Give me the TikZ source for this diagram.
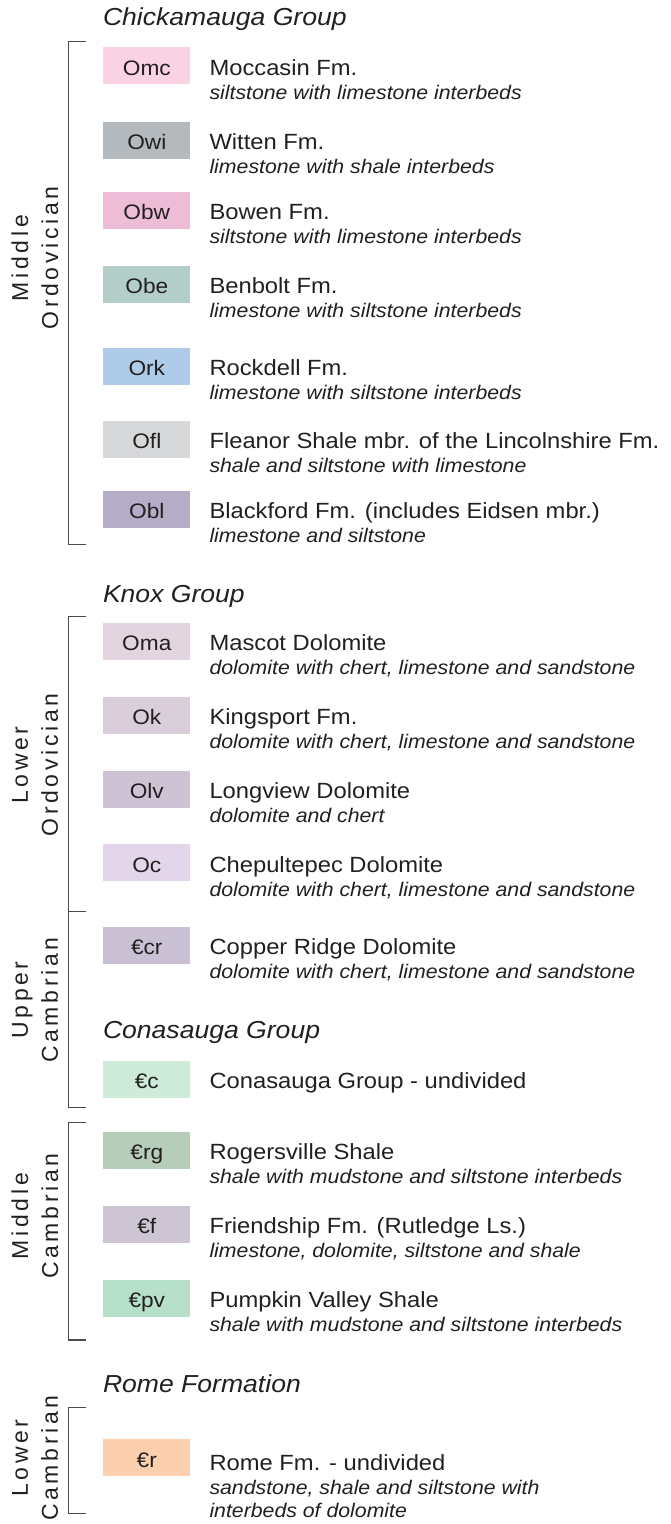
\documentclass[tikz,border=0pt]{standalone}
\usepackage{fontspec}
\setmainfont{Liberation Sans}[FakeStretch=1.08]
\newfontfamily\sidefont{Liberation Sans}[LetterSpace=16]
\definecolor{txt}{HTML}{231F20}
\definecolor{brk}{HTML}{4A4A4A}
\definecolor{cOmc}{HTML}{F9D3E3}
\definecolor{cOwi}{HTML}{B4B9BD}
\definecolor{cObw}{HTML}{EDBDD8}
\definecolor{cObe}{HTML}{B3CEC8}
\definecolor{cOrk}{HTML}{AFCBEA}
\definecolor{cOfl}{HTML}{D7D8DA}
\definecolor{cObl}{HTML}{B5ACC8}
\definecolor{cOma}{HTML}{E3D5DF}
\definecolor{cOk}{HTML}{DACDDA}
\definecolor{cOlv}{HTML}{CDC3D5}
\definecolor{cOc}{HTML}{E3D6EA}
\definecolor{cCcr}{HTML}{CAC0D4}
\definecolor{cCc}{HTML}{CEEAD9}
\definecolor{cCrg}{HTML}{B6CDB9}
\definecolor{cCf}{HTML}{CDC4D4}
\definecolor{cCpv}{HTML}{B6E0C9}
\definecolor{cCr}{HTML}{FCD0AE}
\newcommand\unitrow[6]{%
  \node[swatch, fill=#4] (#1) at (103.3,#2) {};
  \node[code] (#1-code) at ([yshift=-9.2pt]#1.center) {#3};
  \node[fmname] (#1-name) at (209.5,#2+27.7) {#5};
  \node[fmdesc] (#1-desc) at (209.5,#2+51.7) {#6};
}
\begin{document}
\begin{tikzpicture}[x=1pt,y=-1pt,
  every node/.style={inner sep=0pt, outer sep=0pt, text=txt},
  swatch/.style={draw=none, minimum width=87pt, minimum height=37pt, anchor=north west},
  code/.style={anchor=base, font=\fontsize{21}{24}\selectfont},
  fmname/.style={anchor=base west, font=\fontsize{22}{26}\selectfont},
  fmdesc/.style={anchor=base west, font=\fontsize{19.7}{23.3}\selectfont\itshape},
  grouptitle/.style={anchor=base west, font=\fontsize{24.6}{28}\selectfont\itshape},
  agelabel/.style={rotate=90, align=center, font=\sidefont\fontsize{23}{30}\selectfont},
  bracket/.style={draw=brk, line width=1.4pt}]
\useasboundingbox (0,0) rectangle (670,1524);

% group titles
\node[grouptitle] (t-chick) at (103,25) {Chickamauga Group};
\node[grouptitle] (t-knox) at (103,602) {Knox Group};
\node[grouptitle] (t-cona) at (103,1038.3) {Conasauga Group};
\node[grouptitle] (t-rome) at (103,1392.7) {Rome Formation};

% units
\unitrow{omc}{47.3}{Omc}{cOmc}{Moccasin Fm.}{siltstone with limestone interbeds}
\unitrow{owi}{121.7}{Owi}{cOwi}{Witten Fm.}{limestone with shale interbeds}
\unitrow{obw}{191.7}{Obw}{cObw}{Bowen Fm.}{siltstone with limestone interbeds}
\unitrow{obe}{265.7}{Obe}{cObe}{Benbolt Fm.}{limestone with siltstone interbeds}
\unitrow{ork}{347.7}{Ork}{cOrk}{Rockdell Fm.}{limestone with siltstone interbeds}
\unitrow{ofl}{420.7}{Ofl}{cOfl}{Fleanor Shale mbr. of the Lincolnshire Fm.}{shale and siltstone with limestone}
\unitrow{obl}{490.5}{Obl}{cObl}{Blackford Fm. (includes Eidsen mbr.)}{limestone and siltstone}
\unitrow{oma}{622.7}{Oma}{cOma}{Mascot Dolomite}{dolomite with chert, limestone and sandstone}
\unitrow{ok}{696.7}{Ok}{cOk}{Kingsport Fm.}{dolomite with chert, limestone and sandstone}
\unitrow{olv}{770.7}{Olv}{cOlv}{Longview Dolomite}{dolomite and chert}
\unitrow{oc}{844.3}{Oc}{cOc}{Chepultepec Dolomite}{dolomite with chert, limestone and sandstone}
\unitrow{ccr}{926.7}{€cr}{cCcr}{Copper Ridge Dolomite}{dolomite with chert, limestone and sandstone}
\node[swatch, fill=cCc] (cc) at (103.3,1061) {};
\node[code] (cc-code) at ([yshift=-9.2pt]cc.center) {€c};
\node[fmname] (cc-name) at (209.5,1088.7) {Conasauga Group - undivided};
\unitrow{crg}{1131.7}{€rg}{cCrg}{Rogersville Shale}{shale with mudstone and siltstone interbeds}
\unitrow{cf}{1206}{€f}{cCf}{Friendship Fm. (Rutledge Ls.)}{limestone, dolomite, siltstone and shale}
\unitrow{cpv}{1280}{€pv}{cCpv}{Pumpkin Valley Shale}{shale with mudstone and siltstone interbeds}
\node[swatch, fill=cCr] (cr) at (103.3,1439.3) {};
\node[code] (cr-code) at ([yshift=-9.2pt]cr.center) {€r};
\node[fmname] (cr-name) at (209.5,1470) {Rome Fm. - undivided};
\node[fmdesc] (cr-desc) at (209.5,1494) {sandstone, shale and siltstone with};
\node[fmdesc] (cr-desc2) at (209.5,1517.3) {interbeds of dolomite};

% brackets
\draw[bracket] (86,41.7) -- (68.4,41.7) -- (68.4,544.3) -- (86,544.3);
\draw[bracket] (86,616.7) -- (68.4,616.7) -- (68.4,1107.7) -- (86,1107.7);
\draw[bracket] (68.4,911.7) -- (86,911.7);
\draw[bracket] (86,1122.3) -- (68.4,1122.3) -- (68.4,1340) -- (86,1340);
\draw[bracket] (86,1407.3) -- (68.4,1407.3) -- (68.4,1513.3) -- (86,1513.3);

% age labels
\node[agelabel] (a-mo) at (35,258) {Middle\\Ordovician};
\node[agelabel] (a-lo) at (35,765) {Lower\\Ordovician};
\node[agelabel] (a-uc) at (35,1000) {Upper\\Cambrian};
\node[agelabel] (a-mc) at (35,1216) {Middle\\Cambrian};
\node[agelabel] (a-lc) at (35,1458) {Lower\\Cambrian};
\end{tikzpicture}
\end{document}
